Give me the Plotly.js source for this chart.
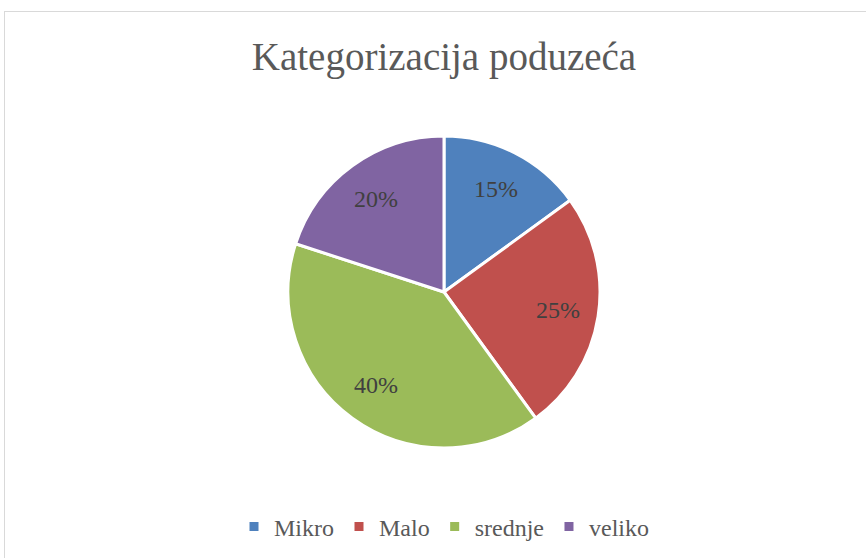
<!DOCTYPE html>
<html>
<head>
<meta charset="utf-8">
<script src="https://cdn.plot.ly/plotly-3.0.1.min.js"></script>
<style>
  html, body { margin: 0; padding: 0; background: #ffffff; overflow: hidden; }
  #chart { position: absolute; left: 0; top: 0; width: 866px; height: 558px; }
  #frame { position: absolute; left: 4px; top: 11px; width: 900px; height: 600px;
           border: 1px solid #d9d9d9; pointer-events: none; }
</style>
</head>
<body>
<div id="chart"></div>
<div id="frame"></div>
<script>
const categories = ["Mikro", "Malo", "srednje", "veliko"];
const values = [15, 25, 40, 20];
const colors = ["#4F81BD", "#C0504D", "#9BBB59", "#8064A2"];
const chartTitle = "Kategorizacija poduzeća";

const W = 866, H = 558;
const cx = 444, cy = 292, R = 156;
const serif = "Liberation Serif, DejaVu Serif, serif";

const trace = {
  type: "pie",
  labels: categories,
  values: values,
  sort: false,
  direction: "clockwise",
  rotation: 0,
  marker: { colors: colors, line: { color: "#ffffff", width: 3 } },
  textinfo: "none",
  hoverinfo: "label+percent",
  domain: { x: [(cx - R) / W, (cx + R) / W], y: [(H - cy - R) / H, (H - cy + R) / H] }
};

// data labels placed at each slice's mid-angle, derived from the values
const total = values.reduce((a, b) => a + b, 0);
let cum = 0;
const annotations = values.map(v => {
  const mid = (cum + v / 2) / total * 2 * Math.PI;
  cum += v;
  const r = 0.74 * R;
  const px = cx + r * Math.sin(mid);
  const py = cy - r * Math.cos(mid);
  return {
    text: Math.round(v / total * 100) + "%",
    x: px / W, y: 1 - py / H, xref: "paper", yref: "paper",
    xanchor: "center", yanchor: "middle", showarrow: false,
    font: { family: serif, size: 24, color: "#404040" }
  };
});

const layout = {
  width: W, height: H,
  margin: { l: 0, r: 0, t: 0, b: 0 },
  paper_bgcolor: "#ffffff",
  showlegend: true,
  annotations: annotations,
  title: {
    text: chartTitle,
    font: { family: serif, size: 39, color: "#595959" },
    x: cx / W, xanchor: "center",
    y: 1 - 56 / H, yanchor: "middle", yref: "container"
  },
  legend: {
    orientation: "h",
    x: cx / W, xanchor: "center",
    y: 1 - 527 / H, yanchor: "middle",
    font: { family: serif, size: 24, color: "#595959" },
    traceorder: "normal"
  }
};

Plotly.newPlot("chart", [trace], layout, { displayModeBar: false, staticPlot: true });
</script>
</body>
</html>
